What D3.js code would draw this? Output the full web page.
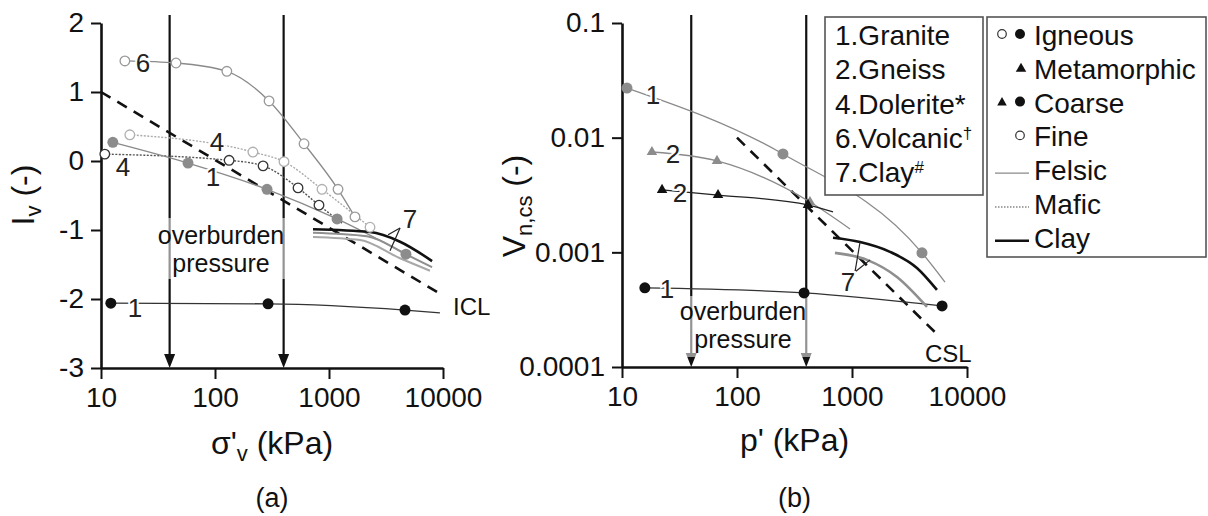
<!DOCTYPE html>
<html lang="en">
<head>
<meta charset="UTF-8">
<title>Iv and vn,cs against stress</title>
<script src="https://d3js.org/d3.v7.min.js"></script>
<style>
  body { margin: 0; background: #fff; }
  svg { display: block; font-family: "Liberation Sans", Arial, sans-serif; }
</style>
</head>
<body>
<div id="chartArea"></div>
<script>
// ---- data ----
const xTickVals = [10, 100, 1000, 10000];
const xMinorVals = [20,30,40,50,60,70,80,90,200,300,400,500,600,700,800,900,2000,3000,4000,5000,6000,7000,8000,9000];
const yTickValsA = [-3, -2, -1, 0, 1, 2];
const yMinorValsA = [-2.5, -1.5, -0.5, 0.5, 1.5];
const yTickValsB = [0.0001, 0.001, 0.01, 0.1];
const overburden = [40, 400];

// panel (a): sigma'v (kPa), Iv (-)
const graniteFelsicA = [[12.7, 0.27], [58, -0.03], [286, -0.41], [1177, -0.84], [4730, -1.35]];
const graniteCoarseA = [[12.2, -2.06], [292, -2.07], [4640, -2.16]];
const graniteCoarseATail = [[9400, -2.2]];
const doleriteLightA = [[17.9, 0.38], [215, 0.13], [403, -0.01], [868, -0.41], [2290, -0.96]];
const doleriteDarkA = [[10.8, 0.10], [133, 0.01], [264, -0.07], [535, -0.39], [817, -0.64]];
const doleriteDarkATail = [[1300, -0.9]];
const volcanicA = [[16.2, 1.45], [45.5, 1.42], [127, 1.30], [298, 0.87], [604, 0.25], [1200, -0.41], [1690, -0.81]];
const clayBlackA = [[724, -0.99], [2290, -1.03], [4200, -1.17], [8020, -1.45]];
const clayGrey1A = [[724, -1.04], [2150, -1.09], [4830, -1.36], [8020, -1.54]];
const clayGrey2A = [[724, -1.10], [1870, -1.145], [4200, -1.41], [7690, -1.59]];
const iclLine = [[10, 1], [10000, -1.95]];

// panel (b): p' (kPa), vn,cs (-)
const graniteFelsicB = [[11.05, 0.0271], [251, 0.00721], [4060, 0.00099]];
const graniteFelsicBTail = [[6440, 0.00055]];
const gneissFelsicB = [[18.2, 0.0075], [67, 0.00627], [431, 0.00275]];
const gneissFelsicBTail = [[961, 0.0016]];
const gneissCoarseB = [[22.3, 0.0035], [68.4, 0.00316], [414, 0.00259]];
const gneissCoarseBTail = [[684, 0.00225]];
const graniteCoarseB = [[15.8, 0.00049], [383, 0.000443], [6070, 0.000341]];
const clayBlackB = [[684, 0.00134], [1175, 0.00123], [2140, 0.00101], [3670, 0.00073], [5480, 0.00047]];
const clayGreyB = [[711, 0.00099], [1350, 0.00086], [2460, 0.00061], [4490, 0.000334]];
const cslLine = [[100, 0.01], [5300, 0.0002]];

const legendRocks = ["1.Granite", "2.Gneiss", "4.Dolerite*", "6.Volcanic\u2020", "7.Clay#"];
const legendKeys = ["Igneous", "Metamorphic", "Coarse", "Fine", "Felsic", "Mafic", "Clay"];

// series number labels [x, y, text]
const labelsA = [[23.4, 1.42, "6"], [104, 0.275, "4"], [15.6, -0.087, "4"], [96, -0.23, "1"], [19.9, -2.12, "1"], [5130, -0.83, "7"]];
const labelsB = [[18.6, 0.0235, "1"], [27.7, 0.0072, "2"], [31.9, 0.0033, "2"], [24.6, 0.00048, "1"], [923, 0.00055, "7"]];
const leader7A = [[[4200, -0.97], [3300, -1.07]], [[4200, -0.97], [3430, -1.30]]];
const leader7B = [[[1062, 0.000675], [1175, 0.00123]], [[1062, 0.000675], [1436, 0.00086]]];

// ---- drawing ----
const svg = d3.select("#chartArea").append("svg").attr("width", 1208).attr("height", 516);

const xA = d3.scaleLog().domain([10, 10000]).range([101, 443]);
const yA = d3.scaleLinear().domain([-3, 2]).range([368, 23]);
const xB = d3.scaleLog().domain([10, 10000]).range([622, 967]);
const yB = d3.scaleLog().domain([0.0001, 0.1]).range([367, 23]);

const GREY = "#8a8a8a", LIGHT = "#ababab", BLACK = "#111";

function drawAxes(x, y, yTicks, yMinor, xTitle, panel) {
    const gx = svg.append("g").attr("transform", `translate(0,${y.range()[0]})`);
    gx.call(d3.axisBottom(x).tickValues(xMinorVals).tickSize(6).tickSizeOuter(0).tickFormat(""));
    gx.call(d3.axisBottom(x).tickValues(xTickVals).tickSize(11).tickSizeOuter(0).tickPadding(8).tickFormat(d => String(d)));
    const gy = svg.append("g").attr("transform", `translate(${x.range()[0]},0)`);
    gy.call(d3.axisLeft(y).tickValues(yMinor).tickSize(6).tickSizeOuter(0).tickFormat(""));
    gy.call(d3.axisLeft(y).tickValues(yTicks).tickSize(10).tickSizeOuter(0).tickPadding(7).tickFormat(d => String(d)));
    [gx, gy].forEach(g => {
        g.selectAll(".domain").attr("stroke", BLACK).attr("stroke-width", 2.6);
        g.selectAll(".tick line").attr("stroke", BLACK).attr("stroke-width", 2);
        g.selectAll(".tick text").attr("fill", "#111").style("font-size", "28px").style("font-family", "Liberation Sans, Arial, sans-serif");
    });
    const cx = (x.range()[0] + x.range()[1]) / 2;
    const t = svg.append("text").attr("x", cx).attr("y", panel === "a" ? 454 : 451)
        .attr("text-anchor", "middle").style("font-size", "32px").attr("fill", "#111");
    if (panel === "a") {
        t.append("tspan").text("\u03c3'");
        t.append("tspan").text("v").attr("dy", 7).style("font-size", "22px");
        t.append("tspan").text(" (kPa)").attr("dy", -7);
    } else {
        t.text(xTitle);
    }
    svg.append("text").attr("x", cx).attr("y", 507).attr("text-anchor", "middle")
        .style("font-size", "27px").attr("fill", "#111").text(panel === "a" ? "(a)" : "(b)");
}

drawAxes(xA, yA, yTickValsA, yMinorValsA, "", "a");
// log y axis for (b): minor ticks 2..9 in every decade
const yMinorB = [];
[0.0001, 0.001, 0.01].forEach(d => { for (let k = 2; k <= 9; k++) yMinorB.push(d * k); });
drawAxes(xB, yB, yTickValsB, yMinorB, "p' (kPa)", "b");

// y titles
const ta = svg.append("text").attr("transform", "translate(34,195) rotate(-90)")
    .attr("text-anchor", "middle").style("font-size", "32px").attr("fill", "#111");
ta.append("tspan").text("I");
ta.append("tspan").text("v").attr("dy", 7).style("font-size", "22px");
ta.append("tspan").text(" (-)").attr("dy", -7);
const tb = svg.append("text").attr("transform", "translate(525,206) rotate(-90)")
    .attr("text-anchor", "middle").style("font-size", "32px").attr("fill", "#111");
tb.append("tspan").text("V");
tb.append("tspan").text("n,cs").attr("dy", 7).style("font-size", "22px");
tb.append("tspan").text(" (-)").attr("dy", -7);

// overburden arrows
function arrows(x, y) {
    const yb = y.range()[0];
    overburden.forEach(v => {
        svg.append("line").attr("x1", x(v)).attr("x2", x(v)).attr("y1", 15).attr("y2", yb - 10)
            .attr("stroke", BLACK).attr("stroke-width", 2.2);
        svg.append("path").attr("d", `M${x(v) - 5.5},${yb - 14}L${x(v) + 5.5},${yb - 14}L${x(v)},${yb}Z`).attr("fill", BLACK);
    });
}
arrows(xA, yA);
arrows(xB, yB);

function drawLine(x, y, pts, stroke, width, dash) {
    const gen = d3.line().x(d => x(d[0])).y(d => y(d[1])).curve(d3.curveMonotoneX);
    svg.append("path").attr("d", gen(pts)).attr("fill", "none").attr("stroke", stroke)
        .attr("stroke-width", width).attr("stroke-dasharray", dash || null);
}

// reference lines
drawLine(xA, yA, iclLine, BLACK, 2.6, "11,8");
drawLine(xB, yB, cslLine, BLACK, 2.6, "11,8");

// panel (a) lines
drawLine(xA, yA, volcanicA, GREY, 1.3);
drawLine(xA, yA, doleriteLightA, LIGHT, 1.4, "2,1.5");
drawLine(xA, yA, doleriteDarkA.concat(doleriteDarkATail), "#555", 1.4, "2,1.5");
drawLine(xA, yA, graniteFelsicA, GREY, 1.3);
drawLine(xA, yA, graniteCoarseA.concat(graniteCoarseATail), "#333", 1.3);
drawLine(xA, yA, clayGrey2A, "#a8a8a8", 2);
drawLine(xA, yA, clayGrey1A, "#8f8f8f", 2);
drawLine(xA, yA, clayBlackA, BLACK, 2.6);

// panel (b) lines
drawLine(xB, yB, graniteFelsicB.concat(graniteFelsicBTail), GREY, 1.3);
drawLine(xB, yB, gneissFelsicB.concat(gneissFelsicBTail), GREY, 1.3);
drawLine(xB, yB, gneissCoarseB.concat(gneissCoarseBTail), "#222", 1.3);
drawLine(xB, yB, graniteCoarseB, "#333", 1.3);
drawLine(xB, yB, clayGreyB, "#8f8f8f", 2.6);
drawLine(xB, yB, clayBlackB, BLACK, 2.6);

// leaders for "7"
leader7A.forEach(p => drawLine(xA, yA, p, "#222", 1.2));
leader7B.forEach(p => drawLine(xB, yB, p, "#222", 1.2));

// overburden labels: half-white box fades the arrows under the text
function overburdenLabel(x0, y0, w, h, cx, b1) {
    svg.append("rect").attr("x", x0).attr("y", y0).attr("width", w).attr("height", h)
        .attr("fill", "#fff").attr("fill-opacity", 0.55);
    ["overburden", "pressure"].forEach((s, i) => svg.append("text").attr("x", cx).attr("y", b1 + i * 28)
        .attr("text-anchor", "middle").style("font-size", "25px").attr("fill", "#111").text(s));
}
overburdenLabel(150, 218, 142, 61, 221, 244);
overburdenLabel(672, 296, 143, 61, 743, 320);

// markers
function circles(x, y, pts, r, fill, stroke) {
    svg.append("g").selectAll("circle").data(pts).join("circle")
        .attr("cx", d => x(d[0])).attr("cy", d => y(d[1])).attr("r", r)
        .attr("fill", fill).attr("stroke", stroke || "none").attr("stroke-width", 1.3);
}
function triangles(x, y, pts, fill) {
    svg.append("g").selectAll("path").data(pts).join("path")
        .attr("transform", d => `translate(${x(d[0])},${y(d[1])})`)
        .attr("d", d3.symbol(d3.symbolTriangle, 48)).attr("fill", fill);
}
circles(xA, yA, volcanicA, 4.8, "#fff", "#999");
circles(xA, yA, doleriteLightA, 4.8, "#fff", "#b0b0b0");
circles(xA, yA, doleriteDarkA, 4.8, "#fff", "#333");
circles(xA, yA, graniteFelsicA, 5.5, "#8c8c8c");
circles(xA, yA, graniteCoarseA, 5.5, BLACK);

circles(xB, yB, graniteFelsicB, 5.5, "#8c8c8c");
triangles(xB, yB, gneissFelsicB, "#8c8c8c");
triangles(xB, yB, gneissCoarseB, BLACK);
circles(xB, yB, graniteCoarseB, 5.5, BLACK);

// series numbers
function numbers(x, y, labels) {
    svg.append("g").selectAll("text").data(labels).join("text")
        .attr("x", d => x(d[0])).attr("y", d => y(d[1])).attr("dy", "0.36em")
        .attr("text-anchor", "middle").style("font-size", "26px").attr("fill", "#222")
        .attr("stroke", "#fff").attr("stroke-width", 4).attr("paint-order", "stroke")
        .text(d => d[2]);
}
numbers(xA, yA, labelsA);
numbers(xB, yB, labelsB);

svg.append("text").attr("x", 453).attr("y", 315).style("font-size", "24px").attr("fill", "#111").text("ICL");
svg.append("text").attr("x", 925).attr("y", 362).style("font-size", "24px").attr("fill", "#111").text("CSL");

// legend 1: rock names
svg.append("rect").attr("x", 825).attr("y", 17).attr("width", 158).attr("height", 178)
    .attr("fill", "#fff").attr("stroke", "#555").attr("stroke-width", 1.6);
legendRocks.forEach((s, i) => {
    const t = svg.append("text").attr("x", 835).attr("y", 45 + i * 34.3).style("font-size", "28px").attr("fill", "#111");
    const last = s.slice(-1);
    if (last === "\u2020" || last === "#") {
        t.append("tspan").text(s.slice(0, -1));
        t.append("tspan").text(last).attr("dy", -9).style("font-size", "17px");
    } else {
        t.text(s);
    }
});

// legend 2: symbols and lines
svg.append("rect").attr("x", 987).attr("y", 17).attr("width", 219).attr("height", 240)
    .attr("fill", "#fff").attr("stroke", "#555").attr("stroke-width", 1.6);
legendKeys.forEach((s, i) => {
    svg.append("text").attr("x", 1034).attr("y", 45 + i * 33.8).style("font-size", "28px").attr("fill", "#111").text(s);
});
const ly = i => 45 + i * 33.8 - 11;
const g2 = svg.append("g");
g2.append("circle").attr("cx", 1002).attr("cy", ly(0)).attr("r", 4.3).attr("fill", "#fff").attr("stroke", "#333").attr("stroke-width", 1.2);
g2.append("circle").attr("cx", 1020).attr("cy", ly(0)).attr("r", 5).attr("fill", BLACK);
g2.append("path").attr("transform", `translate(1021,${ly(1) + 1})`).attr("d", d3.symbol(d3.symbolTriangle, 48)).attr("fill", BLACK);
g2.append("path").attr("transform", `translate(1002,${ly(2) + 1})`).attr("d", d3.symbol(d3.symbolTriangle, 40)).attr("fill", BLACK);
g2.append("circle").attr("cx", 1020).attr("cy", ly(2)).attr("r", 5).attr("fill", BLACK);
g2.append("circle").attr("cx", 1020).attr("cy", ly(3)).attr("r", 4.3).attr("fill", "#fff").attr("stroke", "#333").attr("stroke-width", 1.2);
[[GREY, 1.3, null], ["#888", 1.3, "1.5,1.5"], [BLACK, 2.4, null]].forEach((st, k) => {
    const yy = ly(4 + k) + 4;
    g2.append("line").attr("x1", 995).attr("x2", 1029).attr("y1", yy).attr("y2", yy)
        .attr("stroke", st[0]).attr("stroke-width", st[1]).attr("stroke-dasharray", st[2]);
});
</script>
</body>
</html>
